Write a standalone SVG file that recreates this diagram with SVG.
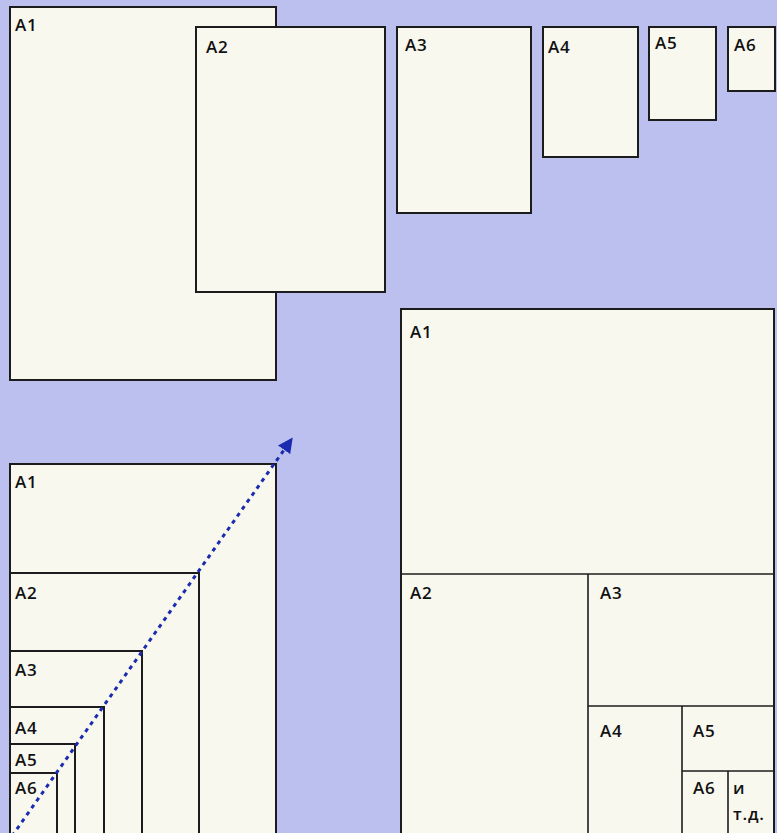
<svg xmlns="http://www.w3.org/2000/svg" width="777" height="833" viewBox="0 0 777 833">
<defs>
<style>
.bg{fill:#bcc0ee}
.sheet{fill:#f8f8ef;stroke:#1c1c1c;stroke-width:2}
.div{fill:none;stroke:#1c1c1c;stroke-width:1.6}
.lbl{font-family:"Open Sans","Liberation Sans",sans-serif;font-size:17px;font-weight:600;fill:#111;letter-spacing:0.8px}
.arrow{fill:none;stroke:#1a2bb0;stroke-width:3;stroke-dasharray:4 4.5}
</style>
<marker id="ah" viewBox="0 0 10 10" refX="8" refY="5" markerWidth="5" markerHeight="5" orient="auto" markerUnits="strokeWidth">
<path d="M0,0 L10,5 L0,10 z" fill="#1a2bb0"/>
</marker>
</defs>
<rect class="bg" x="0" y="0" width="777" height="833"/>

<!-- top row -->
<g id="top-a1"><rect class="sheet" x="10" y="7" width="266" height="373"/><text class="lbl" x="15" y="31">A1</text></g>
<g id="top-a2"><rect class="sheet" x="196" y="27" width="189" height="265"/><text class="lbl" x="206" y="53">A2</text></g>
<g id="top-a3"><rect class="sheet" x="397" y="27" width="134" height="186"/><text class="lbl" x="405" y="51">A3</text></g>
<g id="top-a4"><rect class="sheet" x="543" y="27" width="95" height="130"/><text class="lbl" x="548" y="53">A4</text></g>
<g id="top-a5"><rect class="sheet" x="649" y="27" width="67" height="93"/><text class="lbl" x="655" y="49">A5</text></g>
<g id="top-a6"><rect class="sheet" x="728" y="27" width="47" height="64"/><text class="lbl" x="734" y="51">A6</text></g>

<!-- bottom-left nested -->
<g id="nest-a1"><rect class="sheet" x="10" y="464" width="266" height="380"/><text class="lbl" x="15" y="488">A1</text></g>
<g id="nest-a2"><rect class="sheet" x="10" y="573" width="189" height="270"/><text class="lbl" x="15" y="599">A2</text></g>
<g id="nest-a3"><rect class="sheet" x="10" y="651" width="132" height="190"/><text class="lbl" x="15" y="676">A3</text></g>
<g id="nest-a4"><rect class="sheet" x="10" y="707" width="94" height="135"/><text class="lbl" x="15" y="734">A4</text></g>
<g id="nest-a5"><rect class="sheet" x="10" y="744" width="65" height="98"/><text class="lbl" x="15" y="766">A5</text></g>
<g id="nest-a6"><rect class="sheet" x="10" y="773" width="47" height="70"/><text class="lbl" x="15" y="794">A6</text></g>

<!-- bottom-right subdivision -->
<g id="sub-a1"><rect class="sheet" x="401" y="309" width="373" height="540"/><text class="lbl" x="410" y="338">A1</text></g>
<g id="sub-lines">
<line class="div" x1="401" y1="574" x2="774" y2="574"/>
<line class="div" x1="588" y1="574" x2="588" y2="840"/>
<line class="div" x1="588" y1="706" x2="774" y2="706"/>
<line class="div" x1="682" y1="706" x2="682" y2="840"/>
<line class="div" x1="682" y1="771" x2="774" y2="771"/>
<line class="div" x1="728" y1="771" x2="728" y2="840"/>
</g>
<g id="sub-a2"><text class="lbl" x="410" y="599">A2</text></g>
<g id="sub-a3"><text class="lbl" x="600" y="599">A3</text></g>
<g id="sub-a4"><text class="lbl" x="600" y="737">A4</text></g>
<g id="sub-a5"><text class="lbl" x="693" y="737">A5</text></g>
<g id="sub-a6"><text class="lbl" x="693" y="794">A6</text></g>
<g id="sub-etc"><text class="lbl" x="733" y="794">и</text><text class="lbl" x="733" y="820">т.д.</text></g>

<!-- connectors -->
<g id="connectors">
<line class="arrow" x1="12" y1="836" x2="291" y2="440" marker-end="url(#ah)"/>
</g>
</svg>
